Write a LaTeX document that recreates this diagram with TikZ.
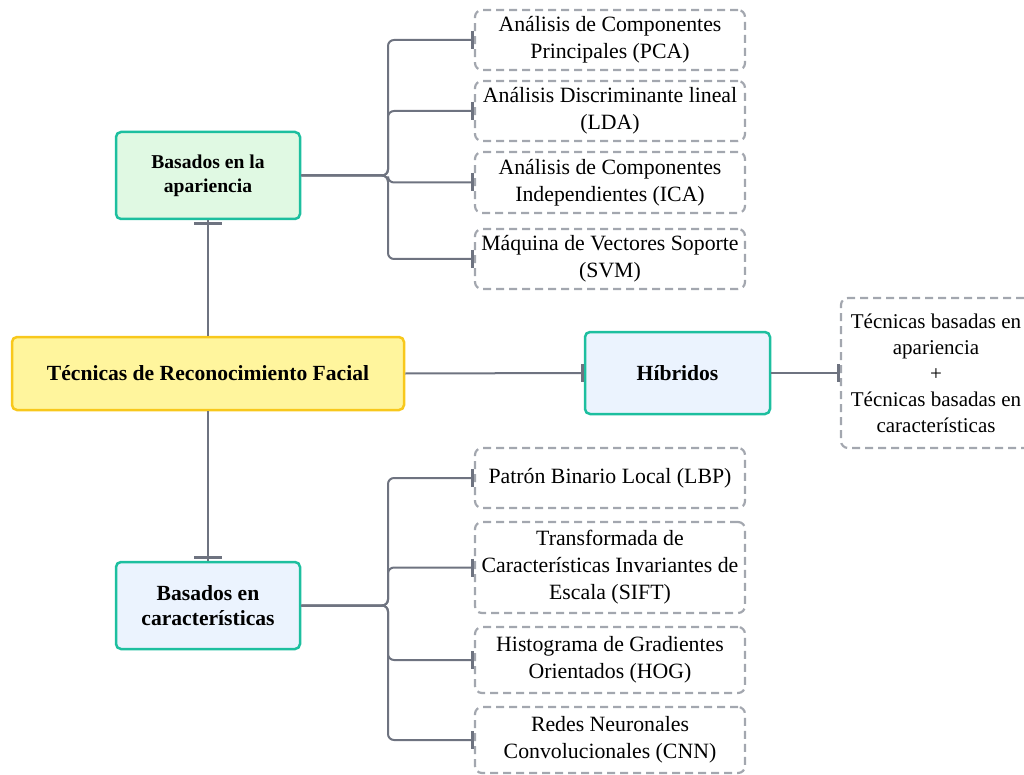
\documentclass[tikz,border=0pt]{standalone}
\usepackage{fontspec}
\setmainfont{Liberation Serif}
\usetikzlibrary{calc}
\definecolor{linegray}{HTML}{6E7380}
\definecolor{dashgray}{HTML}{A3A7AF}
\definecolor{tealborder}{HTML}{1DBF9F}
\definecolor{rootborder}{HTML}{F8C81C}
\definecolor{rootfill}{HTML}{FFF59D}
\definecolor{greenfill}{HTML}{E0F9E3}
\definecolor{bluefill}{HTML}{EBF3FE}
\begin{document}
\begin{tikzpicture}[x=1pt,y=-1pt,
  box/.style={rounded corners=5pt, line width=2.5pt, align=center, inner sep=0pt,
    font=\fontsize{21.6}{25}\selectfont\bfseries},
  catbox/.style={box, draw=tealborder, minimum width=184pt, minimum height=87pt},
  leaf/.style={draw=dashgray, dash pattern=on 8pt off 5pt, line width=2.2pt,
    rounded corners=7pt, align=center, minimum width=270pt, inner sep=0pt,
    font=\fontsize{21.8}{27}\selectfont},
  conn/.style={draw=linegray, line width=2pt, rounded corners=6pt},
  tickbar/.style={draw=linegray, line width=3pt}]
\useasboundingbox (0,0) rectangle (1024,775);
\clip (0,0) rectangle (1024,775);

% main nodes
\node[box, draw=rootborder, fill=rootfill, minimum width=392pt, minimum height=73pt]
  (root) at (208,373.5) {Técnicas de Reconocimiento Facial};
\node[catbox, fill=greenfill, font=\fontsize{19.6}{24}\selectfont\bfseries]
  (app) at (208,175.5) {Basados en la\\apariencia};
\node[catbox, fill=bluefill] (car) at (208,605.5) {Basados en\\características};
\node[box, draw=tealborder, fill=bluefill, minimum width=185pt, minimum height=82pt]
  (hib) at (677.5,373) {Híbridos};
\node[leaf, minimum width=190pt, minimum height=150pt, font=\fontsize{21}{26}\selectfont]
  (hleaf) at (936,373)
  {Técnicas basadas en\\apariencia\\+\\Técnicas basadas en\\características};

% appearance-based leaves
\node[leaf, minimum height=60pt] (pca) at (610,40) {Análisis de Componentes\\Principales (PCA)};
\node[leaf, minimum height=60pt] (lda) at (610,111) {Análisis Discriminante lineal\\(LDA)};
\node[leaf, minimum height=61pt] (ica) at (610,182.5) {Análisis de Componentes\\Independientes (ICA)};
\node[leaf, minimum height=60pt] (svm) at (610,259) {Máquina de Vectores Soporte\\(SVM)};

% feature-based leaves
\node[leaf, minimum height=60pt] (lbp) at (610,478) {Patrón Binario Local (LBP)};
\node[leaf, minimum height=91pt] (sift) at (610,567.5) {Transformada de\\Características Invariantes de\\Escala (SIFT)};
\node[leaf, minimum height=66pt] (hog) at (610,660) {Histograma de Gradientes\\Orientados (HOG)};
\node[leaf, minimum height=66pt] (cnn) at (610,740) {Redes Neuronales\\Convolucionales (CNN)};

% trunk points
\coordinate (tA) at (388,175.5);
\coordinate (tB) at (388,605.5);

% connectors
\foreach \n in {pca,lda,ica,svm}{
  \draw[conn] (app.east) -- (tA) |- (\n.west);
  \draw[tickbar] ($(\n.west)+(-1,-9)$) -- ($(\n.west)+(-1,9)$);
}
\foreach \n in {lbp,sift,hog,cnn}{
  \draw[conn] (car.east) -- (tB) |- (\n.west);
  \draw[tickbar] ($(\n.west)+(-1,-9)$) -- ($(\n.west)+(-1,9)$);
}
\draw[conn] (root.north) -- (app.south);
\draw[tickbar] ($(app.south)+(-14,3)$) -- ($(app.south)+(14,3)$);
\draw[conn] (root.south) -- (car.north);
\draw[tickbar] ($(car.north)+(-14,-3)$) -- ($(car.north)+(14,-3)$);
\draw[conn] (root.east) -- (hib.west);
\draw[tickbar] ($(hib.west)+(-1,-9)$) -- ($(hib.west)+(-1,9)$);
\draw[conn] (hib.east) -- (hleaf.west);
\draw[tickbar] ($(hleaf.west)+(-1,-9)$) -- ($(hleaf.west)+(-1,9)$);
\end{tikzpicture}
\end{document}
